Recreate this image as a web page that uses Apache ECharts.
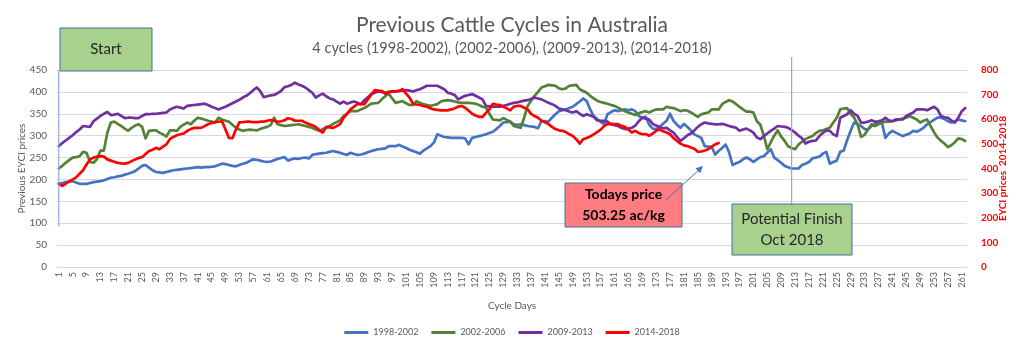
<!DOCTYPE html>
<html>
<head>
<meta charset="utf-8">
<script src="https://cdn.jsdelivr.net/npm/echarts@6/dist/echarts.min.js"></script>
<style>
html,body{margin:0;padding:0;background:#fff;}
#c{width:1024px;height:348px;}
</style>
</head>
<body>
<div id="c"></div>
<script>
// ---------- DATA ----------
var categories = [];
for (var i = 1; i <= 262; i++) categories.push(String(i));

var seriesNames = ['1998-2002', '2002-2006', '2009-2013', '2014-2018'];

var blue1998 = [190,192,194,195,196,193,190,190,190,192,194,195,196,198,201,204,205,207,208,211,213,216,219,225,231,233,227,221,217,216,215,217,219,221,222,223,224,225,226,227,228,227,228,228,229,230,233,236,235,233,231,230,233,236,238,242,246,245,243,241,240,241,244,247,249,251,243,246,248,247,249,250,248,256,258,259,260,261,263,265,263,261,258,256,261,258,256,257,259,262,265,267,269,270,271,276,276,276,279,275,272,268,265,262,259,266,271,276,284,303,300,297,296,295,295,295,295,294,280,295,297,299,301,303,306,309,315,322,330,331,332,326,325,326,324,322,321,320,317,334,333,332,341,349,356,358,360,363,366,372,378,385,379,360,345,338,332,326,349,354,358,356,358,360,358,360,356,345,341,343,325,316,315,320,327,334,350,334,325,318,327,320,312,303,299,295,276,275,274,257,265,272,280,262,233,237,240,246,250,246,240,246,251,253,261,269,250,244,238,231,228,225,225,225,233,236,240,248,250,252,259,263,236,240,243,263,266,290,311,330,326,322,315,314,322,326,330,330,295,305,311,307,303,299,302,305,311,309,313,318,326,331,336,341,341,338,333,330,332,337,335,333];

var green2002 = [225,231,238,244,250,251,253,263,261,240,238,246,266,266,307,330,332,327,322,316,311,318,323,326,320,294,311,312,312,307,303,298,312,312,311,320,325,330,326,334,341,339,337,334,332,330,341,337,334,332,325,318,314,311,313,314,313,312,315,318,320,324,341,326,324,322,323,324,325,326,324,322,320,318,314,311,315,318,322,327,331,335,345,350,356,356,356,360,363,368,373,374,375,383,390,396,385,375,377,379,374,370,370,379,375,372,370,368,370,372,378,380,381,380,378,376,375,375,375,374,373,370,366,364,350,337,336,335,340,336,332,322,320,318,341,368,380,391,400,410,413,416,415,414,408,406,408,414,415,416,406,402,398,391,385,380,377,375,373,370,368,364,360,356,353,350,347,351,354,356,353,357,360,360,360,366,364,363,360,356,358,357,353,348,343,349,351,353,360,360,360,372,377,381,378,372,366,360,355,355,353,333,325,300,269,285,300,312,298,288,276,272,269,280,286,292,296,299,306,311,312,315,318,330,341,360,362,363,350,341,326,297,302,314,326,322,326,330,332,332,333,335,337,339,341,345,341,337,330,334,337,322,308,296,288,282,274,278,285,294,292,288];

var purple2009 = [276,283,289,295,301,308,314,322,321,320,333,339,345,350,354,347,348,350,345,340,341,341,340,340,345,349,349,350,350,351,352,353,360,363,366,364,362,368,369,370,371,372,373,370,366,363,360,363,366,370,374,378,382,387,391,397,404,410,402,388,390,392,393,397,402,411,413,416,421,417,414,410,404,398,387,392,396,390,385,383,378,373,378,373,376,378,375,372,381,388,395,398,401,400,398,400,401,401,402,403,404,403,401,404,406,410,414,414,414,414,410,406,398,396,393,383,387,391,393,395,391,387,383,368,367,366,366,366,368,370,373,375,376,378,380,381,384,387,385,383,379,375,372,368,362,360,358,355,353,356,350,345,349,346,343,335,334,334,332,326,324,322,318,315,316,318,323,333,341,339,337,327,323,320,317,318,312,307,297,288,294,301,305,312,320,326,330,328,327,326,326,327,325,322,320,318,311,314,316,312,307,296,292,299,305,311,316,322,321,320,318,313,307,300,294,282,286,288,289,299,306,312,311,303,299,341,345,349,358,350,345,330,330,332,335,332,333,335,341,335,333,337,337,337,345,349,353,360,360,360,358,362,366,360,345,342,341,335,330,341,356,363];

var red2014 = [338,329,338,348,356,364,379,393,416,437,444,448,450,448,437,432,427,423,421,420,423,430,437,443,446,459,471,476,484,478,489,498,519,528,535,539,542,553,560,565,565,565,572,580,585,588,590,592,558,524,523,558,587,588,590,590,588,588,590,590,594,597,594,590,592,596,604,601,594,594,594,587,581,576,569,556,546,569,567,565,572,580,606,622,640,651,661,661,661,681,700,718,716,715,704,709,713,713,715,722,704,688,663,660,658,654,651,645,640,638,636,636,636,640,645,651,654,647,635,622,615,610,610,626,640,663,660,658,651,644,636,651,654,654,647,640,622,613,606,594,588,580,569,560,555,553,548,539,532,519,501,519,524,530,539,548,558,572,580,581,580,580,574,569,558,546,553,544,539,540,533,542,553,558,551,546,539,524,512,501,494,491,485,480,468,469,473,478,489,498,503.25];

var leftTicks = {min: 0, max: 450, interval: 50};
var rightTicks = {min: 0, max: 800, interval: 100};
var colors = ['#4472C4', '#548235', '#7030A0', '#FF0000'];

// ---------- CHART ----------
var chart = echarts.init(document.getElementById('c'), null, {renderer: 'canvas'});
var FONT = 'Lato';
var GREY = '#595959';

function lineSeries(name, data, color, yIdx) {
  return {
    name: name, type: 'line', data: data, yAxisIndex: yIdx,
    showSymbol: false, symbol: 'none', smooth: false,
    lineStyle: {color: color, width: 2.7, cap: 'round', join: 'round'},
    itemStyle: {color: color},
    emphasis: {disabled: true}, animation: false
  };
}

var option = {
  animation: false,
  backgroundColor: '#ffffff',
  title: {
    text: 'Previous Cattle Cycles in Australia',
    subtext: '4 cycles (1998-2002), (2002-2006), (2009-2013), (2014-2018)',
    left: 'center', top: 10, itemGap: 5,
    textStyle: {fontFamily: FONT, fontSize: 21, fontWeight: 'normal', color: GREY},
    subtextStyle: {fontFamily: FONT, fontSize: 14.6, color: GREY}
  },
  grid: {left: 57, right: 57, top: 70, bottom: 81, containLabel: false},
  legend: {
    data: seriesNames, bottom: 6, left: 'center',
    icon: 'rect', itemWidth: 24, itemHeight: 3, itemGap: 13,
    textStyle: {fontFamily: FONT, fontSize: 9, color: GREY}
  },
  xAxis: {
    type: 'category', data: categories, boundaryGap: true,
    name: 'Cycle Days', nameLocation: 'middle', nameGap: 34, nameMoveOverlap: false,
    nameTextStyle: {fontFamily: FONT, fontSize: 10, color: GREY},
    axisLine: {lineStyle: {color: '#d9d9d9'}},
    axisTick: {show: false},
    axisLabel: {interval: 3, rotate: 90, fontFamily: FONT, fontSize: 9, color: GREY, margin: 5}
  },
  yAxis: [
    {
      type: 'value', min: leftTicks.min, max: leftTicks.max, interval: leftTicks.interval,
      name: 'Previous EYCI prices', nameLocation: 'middle', nameGap: 30, nameRotate: 90, nameMoveOverlap: false,
      nameTextStyle: {fontFamily: FONT, fontSize: 10, color: GREY},
      axisLine: {show: false}, axisTick: {show: false},
      axisLabel: {fontFamily: FONT, fontSize: 10, color: GREY, margin: 10},
      splitLine: {lineStyle: {color: '#d9d9d9', width: 1}}
    },
    {
      type: 'value', min: rightTicks.min, max: rightTicks.max, interval: rightTicks.interval,
      position: 'right',
      name: 'EYCI prices  2014-2018', nameLocation: 'middle', nameGap: 31, nameRotate: 90, nameMoveOverlap: false,
      nameTextStyle: {fontFamily: FONT, fontSize: 10, fontWeight: 'bold', color: '#FF0000'},
      axisLine: {show: false}, axisTick: {show: false},
      axisLabel: {fontFamily: FONT, fontSize: 10, fontWeight: 'bold', color: '#FF0000', margin: 14},
      splitLine: {show: false}
    }
  ],
  series: [
    lineSeries(seriesNames[0], blue1998, colors[0], 0),
    lineSeries(seriesNames[1], green2002, colors[1], 0),
    lineSeries(seriesNames[2], purple2009, colors[2], 0),
    lineSeries(seriesNames[3], red2014, colors[3], 1)
  ]
};
chart.setOption(option);

// ---------- ANNOTATIONS ----------
var xStart = chart.convertToPixel({xAxisIndex: 0}, '1');
var xFinish = chart.convertToPixel({xAxisIndex: 0}, '212');
var y100 = chart.convertToPixel({yAxisIndex: 0}, 100);
var BOX_BORDER = '#41719C';
var BOX_GREEN = '#A9D18E';

chart.setOption({
  graphic: [
    {type: 'line', shape: {x1: xStart, y1: 70, x2: xStart, y2: y100 + 3}, style: {stroke: '#8FAADC', lineWidth: 1.2}, z: 10},
    {type: 'rect', shape: {x: 60, y: 28, width: 92, height: 43}, style: {fill: BOX_GREEN, stroke: BOX_BORDER, lineWidth: 1}, z: 20},
    {type: 'text', x: 106, y: 49.5, style: {text: 'Start', fontFamily: FONT, fontSize: 15, fill: '#262626', align: 'center', verticalAlign: 'middle'}, z: 21},

    {type: 'line', shape: {x1: xFinish, y1: 57, x2: xFinish, y2: 204}, style: {stroke: '#8FAADC', lineWidth: 1.2}, z: 10},
    {type: 'rect', shape: {x: 732, y: 204, width: 120, height: 51}, style: {fill: BOX_GREEN, stroke: BOX_BORDER, lineWidth: 1}, z: 20},
    {type: 'text', x: 792, y: 229.5, style: {text: 'Potential Finish\nOct 2018', fontFamily: FONT, fontSize: 15, lineHeight: 21, fill: '#262626', align: 'center', verticalAlign: 'middle'}, z: 21},

    {type: 'rect', shape: {x: 565, y: 183, width: 117, height: 44}, style: {fill: '#FF7C80', stroke: BOX_BORDER, lineWidth: 1}, z: 20},
    {type: 'text', x: 623.5, y: 205, style: {text: 'Todays price\n503.25 ac/kg', fontFamily: FONT, fontSize: 14, fontWeight: 'bold', lineHeight: 21, fill: '#000000', align: 'center', verticalAlign: 'middle'}, z: 21},
    {type: 'line', shape: {x1: 666, y1: 200, x2: 701, y2: 168}, style: {stroke: '#4472C4', lineWidth: 1}, z: 22},
    {type: 'polygon', shape: {points: [[703, 166], [700.2, 173.3], [695.5, 168.2]]}, style: {fill: '#4472C4'}, z: 22}
  ]
});
</script>
</body>
</html>
